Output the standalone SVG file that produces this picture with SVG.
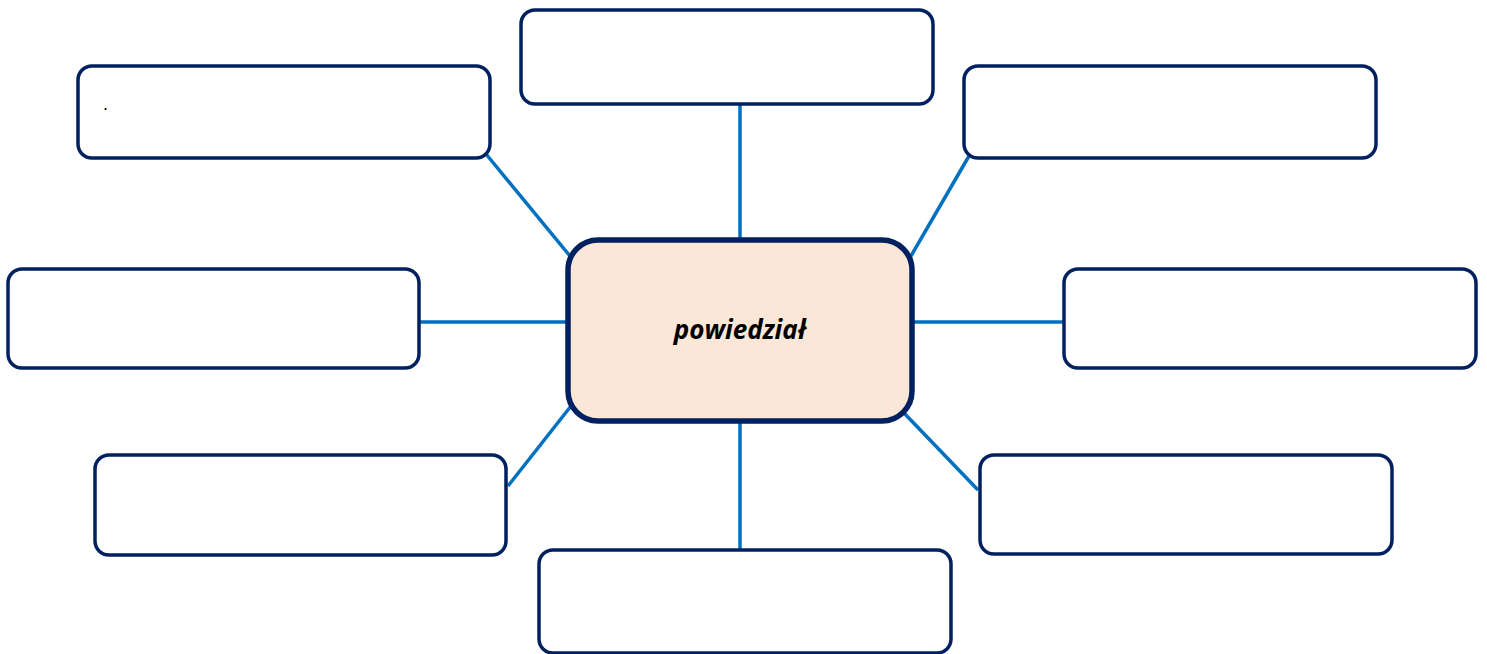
<svg xmlns="http://www.w3.org/2000/svg" width="1487" height="654" viewBox="0 0 1487 654">
<style>
.box{fill:#fff;stroke:#002060;stroke-width:3.5}
.center{fill:#FBE7D8;stroke:#002060;stroke-width:5.5}
.conn{stroke:#0070C0;stroke-width:3.5;fill:none}
.t{font-family:"Open Sans","Noto Sans",sans-serif;font-weight:bold;font-style:italic;font-size:26px;fill:#000}
</style>
<rect width="1487" height="654" fill="#fff"/>
<g id="connectors">
<line class="conn" x1="740" y1="104" x2="740" y2="240"/>
<line class="conn" x1="486" y1="154" x2="570" y2="256"/>
<line class="conn" x1="969" y1="156" x2="911" y2="256"/>
<line class="conn" x1="419" y1="322" x2="568" y2="322"/>
<line class="conn" x1="912" y1="322" x2="1064" y2="322"/>
<line class="conn" x1="508" y1="486" x2="571" y2="406"/>
<line class="conn" x1="904" y1="413" x2="978" y2="490"/>
<line class="conn" x1="740" y1="421" x2="740" y2="550"/>
</g>
<g id="node-top"><rect class="box" x="521" y="10" width="412" height="94" rx="14"/></g>
<g id="node-top-left"><rect class="box" x="78" y="66" width="412" height="92" rx="14"/><text x="103" y="110" font-family="Liberation Sans,sans-serif" font-size="18">.</text></g>
<g id="node-top-right"><rect class="box" x="964" y="66" width="412" height="92" rx="14"/></g>
<g id="node-left"><rect class="box" x="8" y="269" width="411" height="99" rx="14"/></g>
<g id="node-right"><rect class="box" x="1064" y="269" width="412" height="99" rx="14"/></g>
<g id="node-bottom-left"><rect class="box" x="95" y="455" width="411" height="100" rx="14"/></g>
<g id="node-bottom-right"><rect class="box" x="980" y="455" width="412" height="99" rx="14"/></g>
<g id="node-bottom"><rect class="box" x="539" y="550" width="412" height="103" rx="14"/></g>
<g id="node-center"><rect class="center" x="568" y="240" width="344" height="181" rx="30"/><text class="t" x="740" y="339" text-anchor="middle">powiedział</text></g>
</svg>
